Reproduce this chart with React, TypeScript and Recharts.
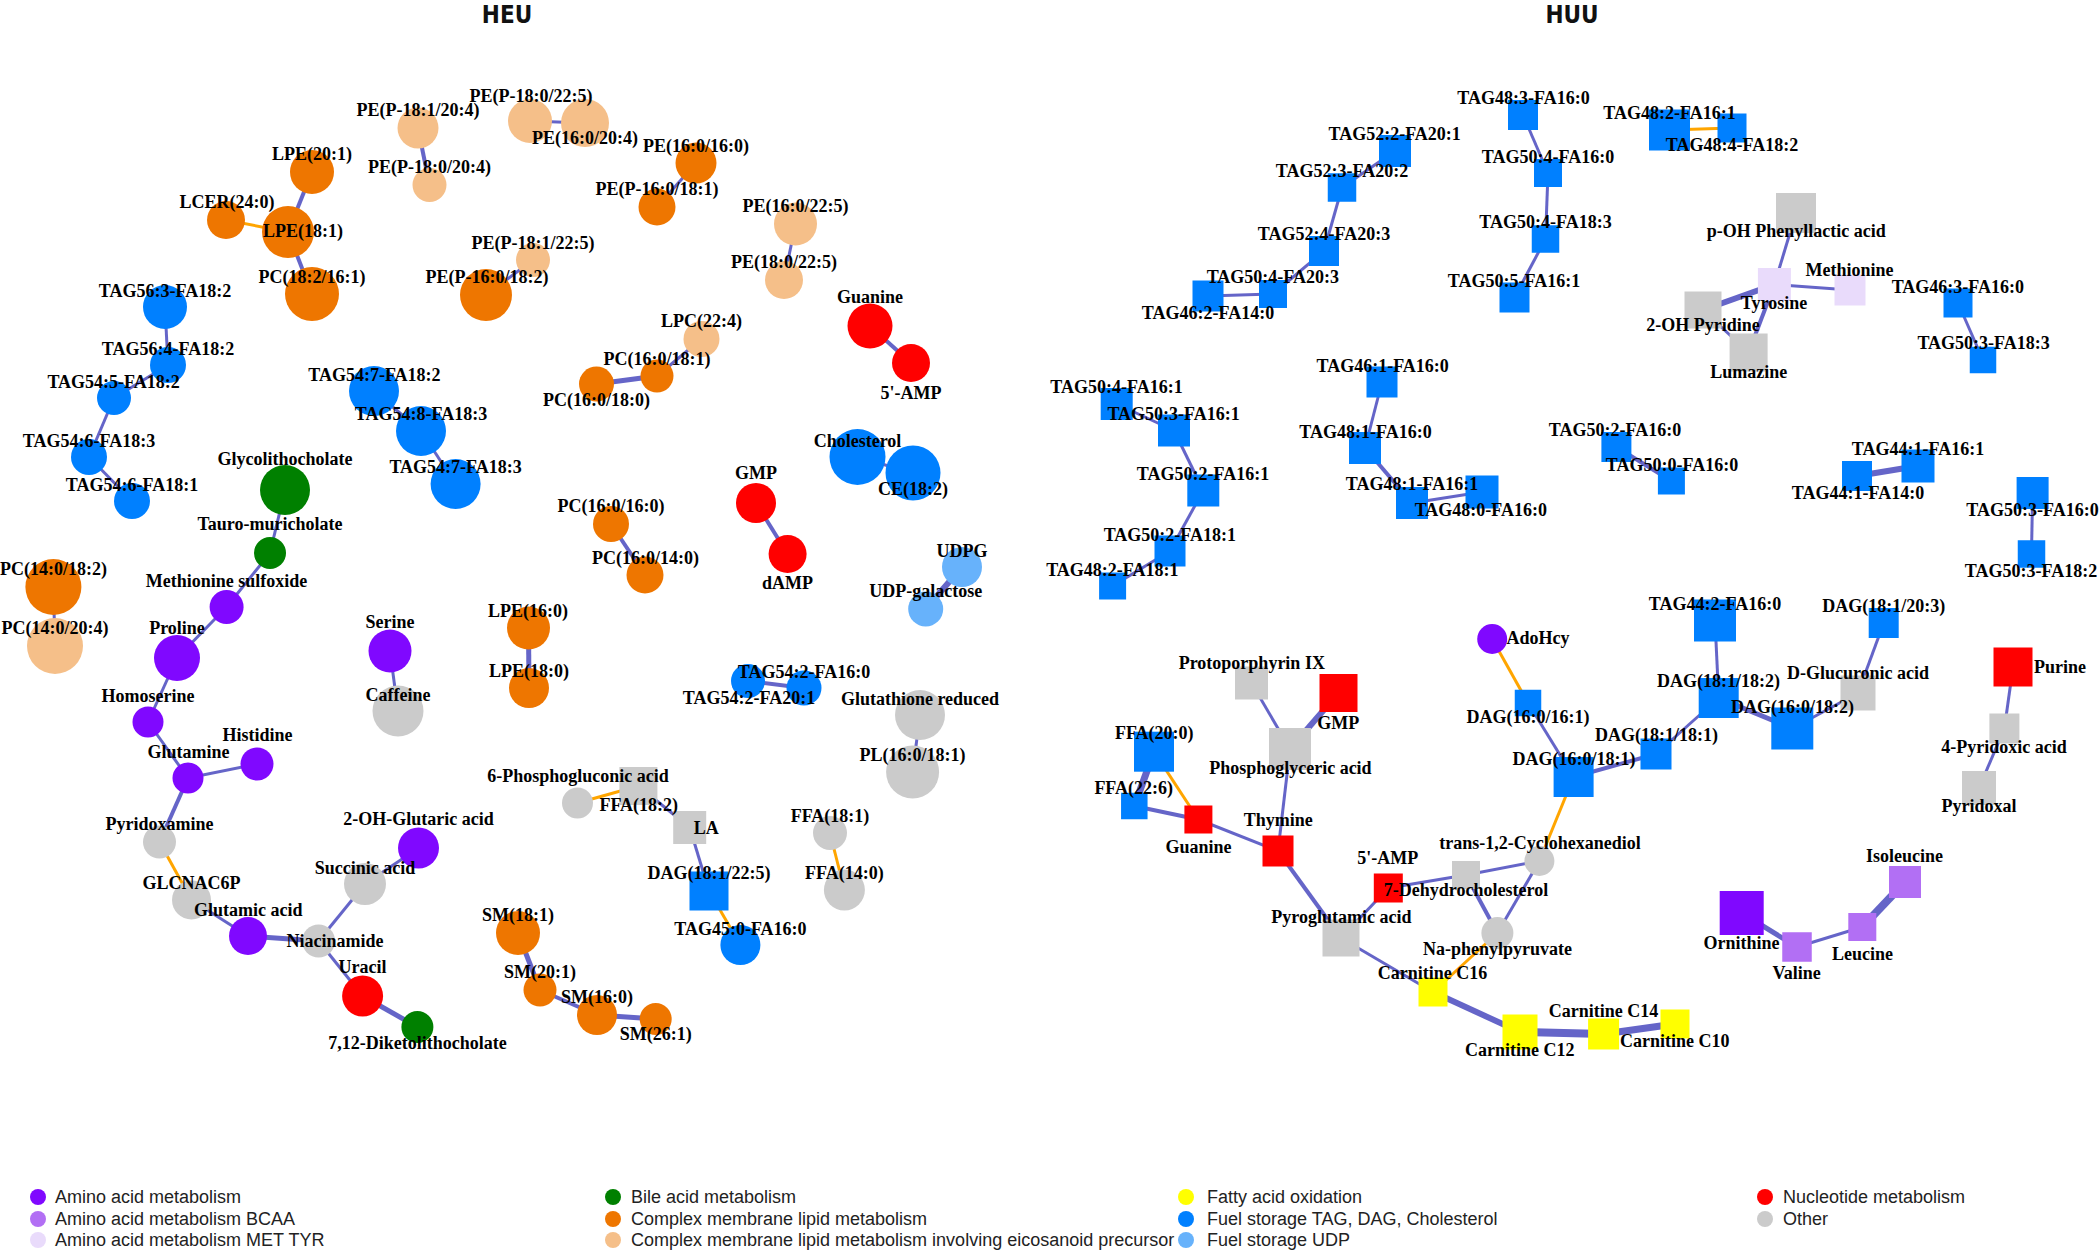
import React from 'react';
import { ScatterChart, Scatter, XAxis, YAxis } from 'recharts';

const W = 2100;
const H = 1251;

// [name, x, y, size, group, shape]
type NodeT = [string, number, number, number, string, string?];
type LabelT = [string, number, number];
type EdgeT = [string, string, number, string?];

const groupColors: Record<string, string> = {
  aa: '#8008ff',
  bcaa: '#b26ff4',
  mettyr: '#e9dbfb',
  bile: '#008000',
  cml: '#ee7600',
  eic: '#f5bf89',
  fao: '#ffff00',
  tag: '#0080ff',
  udp: '#67b2fb',
  nuc: '#ff0000',
  other: '#cbcbcb',
};

const legendGroups: [string, string][] = [
  ['aa', 'Amino acid metabolism'],
  ['bcaa', 'Amino acid metabolism BCAA'],
  ['mettyr', 'Amino acid metabolism MET TYR'],
  ['bile', 'Bile acid metabolism'],
  ['cml', 'Complex membrane lipid metabolism'],
  ['eic', 'Complex membrane lipid metabolism involving eicosanoid precursor'],
  ['fao', 'Fatty acid oxidation'],
  ['tag', 'Fuel storage TAG, DAG, Cholesterol'],
  ['udp', 'Fuel storage UDP'],
  ['nuc', 'Nucleotide metabolism'],
  ['other', 'Other'],
];

const titles: [string, number][] = [
  ['HEU', 507],
  ['HUU', 1572],
];

const heuNodes: NodeT[] = [
  ['PE(P-18:1/20:4)', 418, 128, 41, 'eic'],
  ['PE(P-18:0/20:4)', 429.5, 185, 34, 'eic'],
  ['LPE(20:1)', 312, 172, 44, 'cml'],
  ['LCER(24:0)', 226, 220, 38, 'cml'],
  ['LPE(18:1)', 288, 232, 52, 'cml'],
  ['PC(18:2/16:1)', 312, 294, 54, 'cml'],
  ['TAG56:3-FA18:2', 165, 307, 44, 'tag'],
  ['TAG56:4-FA18:2', 168, 365, 36, 'tag'],
  ['TAG54:5-FA18:2', 114, 398, 34, 'tag'],
  ['TAG54:6-FA18:3', 89, 457, 36, 'tag'],
  ['TAG54:6-FA18:1', 132, 501, 36, 'tag'],
  ['PE(P-16:0/18:2)', 486, 295, 52, 'cml'],
  ['PE(P-18:1/22:5)', 533, 260, 34, 'eic'],
  ['PE(P-18:0/22:5)', 530, 121, 44, 'eic'],
  ['PE(16:0/20:4)', 585, 123, 48, 'eic'],
  ['PE(16:0/16:0)', 696, 163, 41, 'cml'],
  ['PE(P-16:0/18:1)', 657, 207, 37, 'cml'],
  ['PE(16:0/22:5)', 795.5, 224, 43, 'eic'],
  ['PE(18:0/22:5)', 784, 280, 38, 'eic'],
  ['Guanine', 870, 326, 45, 'nuc'],
  ["5'-AMP", 911, 363, 38, 'nuc'],
  ['LPC(22:4)', 701.5, 339, 36, 'eic'],
  ['PC(16:0/18:1)', 657, 376, 33, 'cml'],
  ['PC(16:0/18:0)', 596.5, 384, 35, 'cml'],
  ['TAG54:7-FA18:2', 374, 391, 50, 'tag'],
  ['TAG54:8-FA18:3', 421, 431, 50, 'tag'],
  ['TAG54:7-FA18:3', 455.6, 484, 50, 'tag'],
  ['Glycolithocholate', 285, 490, 50, 'bile'],
  ['Tauro-muricholate', 270, 553, 32, 'bile'],
  ['Methionine sulfoxide', 226.6, 607, 34, 'aa'],
  ['Proline', 177, 658, 46, 'aa'],
  ['Homoserine', 148, 722, 31, 'aa'],
  ['PC(14:0/18:2)', 53.4, 587, 56, 'cml'],
  ['PC(14:0/20:4)', 55, 646, 56, 'eic'],
  ['Serine', 390, 651, 43, 'aa'],
  ['Caffeine', 398, 711, 51, 'other'],
  ['LPE(16:0)', 528.5, 628, 43, 'cml'],
  ['LPE(18:0)', 529, 688, 40, 'cml'],
  ['Cholesterol', 857.5, 457, 56, 'tag'],
  ['CE(18:2)', 913, 473, 55, 'tag'],
  ['GMP', 756, 503, 40, 'nuc'],
  ['dAMP', 787.6, 554, 38, 'nuc'],
  ['PC(16:0/16:0)', 611, 524, 36, 'cml'],
  ['PC(16:0/14:0)', 645, 575, 37, 'cml'],
  ['UDPG', 962, 567, 40, 'udp'],
  ['UDP-galactose', 925.7, 609, 35, 'udp'],
  ['TAG54:2-FA16:0', 804, 688, 35, 'tag'],
  ['TAG54:2-FA20:1', 748, 681, 34, 'tag'],
  ['Glutathione reduced', 920, 715, 50, 'other'],
  ['PL(16:0/18:1)', 912.6, 772, 53, 'other'],
  ['Glutamine', 188, 778, 31, 'aa'],
  ['Histidine', 257, 764, 33, 'aa'],
  ['Pyridoxamine', 159.5, 842, 33, 'other'],
  ['GLCNAC6P', 191.5, 900, 39, 'other'],
  ['Glutamic acid', 248, 936, 38, 'aa'],
  ['Niacinamide', 318.6, 941, 33, 'other'],
  ['Succinic acid', 365, 884, 42, 'other'],
  ['2-OH-Glutaric acid', 418.5, 848, 41, 'aa'],
  ['Uracil', 362.6, 996, 41, 'nuc'],
  ['7,12-Diketolithocholate', 417.4, 1027, 32, 'bile'],
  ['SM(18:1)', 518, 933, 44, 'cml'],
  ['SM(20:1)', 540, 990, 33, 'cml'],
  ['SM(16:0)', 597, 1015, 40, 'cml'],
  ['SM(26:1)', 655.7, 1019, 32, 'cml'],
  ['6-Phosphogluconic acid', 577.5, 803, 31, 'other'],
  ['FFA(18:2)', 638.4, 786, 38, 'other', 's'],
  ['LA', 689.7, 827.5, 33, 'other', 's'],
  ['DAG(18:1/22:5)', 709, 891, 39, 'tag', 's'],
  ['TAG45:0-FA16:0', 740.4, 945, 40, 'tag'],
  ['FFA(18:1)', 830, 833, 34, 'other'],
  ['FFA(14:0)', 844.4, 890, 41, 'other'],
];

const heuLabels: LabelT[] = [
  ['PE(P-18:1/20:4)', 418, 110],
  ['PE(P-18:0/20:4)', 429.5, 167],
  ['LPE(20:1)', 312, 154],
  ['LCER(24:0)', 227, 202],
  ['LPE(18:1)', 303, 231],
  ['PC(18:2/16:1)', 312, 277],
  ['TAG56:3-FA18:2', 165, 291],
  ['TAG56:4-FA18:2', 168, 349],
  ['TAG54:5-FA18:2', 113.6, 382],
  ['TAG54:6-FA18:3', 89, 441],
  ['TAG54:6-FA18:1', 132, 485],
  ['PE(P-16:0/18:2)', 487, 277],
  ['PE(P-18:1/22:5)', 533, 243],
  ['PE(P-18:0/22:5)', 531, 96],
  ['PE(16:0/20:4)', 585, 138],
  ['PE(16:0/16:0)', 696, 146],
  ['PE(P-16:0/18:1)', 657, 189],
  ['PE(16:0/22:5)', 795.5, 206],
  ['PE(18:0/22:5)', 784, 262],
  ['Guanine', 870, 297],
  ["5'-AMP", 911, 393],
  ['LPC(22:4)', 701.5, 321],
  ['PC(16:0/18:1)', 657, 359],
  ['PC(16:0/18:0)', 596.5, 400],
  ['TAG54:7-FA18:2', 374.4, 375],
  ['TAG54:8-FA18:3', 421, 414],
  ['TAG54:7-FA18:3', 455.6, 467],
  ['Glycolithocholate', 285, 459],
  ['Tauro-muricholate', 270, 524],
  ['Methionine sulfoxide', 226.6, 581],
  ['Proline', 177, 628],
  ['Homoserine', 148, 696],
  ['PC(14:0/18:2)', 53.4, 569],
  ['PC(14:0/20:4)', 55, 628],
  ['Serine', 390, 622],
  ['Caffeine', 398, 695],
  ['LPE(16:0)', 528, 611],
  ['LPE(18:0)', 529, 671],
  ['Cholesterol', 857.5, 441],
  ['CE(18:2)', 913, 489],
  ['GMP', 756, 473],
  ['dAMP', 787.6, 583],
  ['PC(16:0/16:0)', 611, 506],
  ['PC(16:0/14:0)', 645.4, 558],
  ['UDPG', 962, 551],
  ['UDP-galactose', 925.7, 591],
  ['TAG54:2-FA16:0', 804, 672],
  ['TAG54:2-FA20:1', 749, 698],
  ['Glutathione reduced', 920, 699],
  ['PL(16:0/18:1)', 912.6, 755],
  ['Glutamine', 188.4, 752],
  ['Histidine', 257.6, 735],
  ['Pyridoxamine', 159.5, 824],
  ['GLCNAC6P', 191.5, 883],
  ['Glutamic acid', 248.3, 910],
  ['Niacinamide', 335, 941],
  ['Succinic acid', 365, 868],
  ['2-OH-Glutaric acid', 418.5, 819],
  ['Uracil', 362.6, 967],
  ['7,12-Diketolithocholate', 417.4, 1043],
  ['SM(18:1)', 518, 915],
  ['SM(20:1)', 540, 972],
  ['SM(16:0)', 597, 997],
  ['SM(26:1)', 655.7, 1034],
  ['6-Phosphogluconic acid', 578, 776],
  ['FFA(18:2)', 638.8, 805],
  ['LA', 706.3, 828],
  ['DAG(18:1/22:5)', 709, 873],
  ['TAG45:0-FA16:0', 740.4, 929],
  ['FFA(18:1)', 830, 816],
  ['FFA(14:0)', 844.4, 873],
];

const heuEdges: EdgeT[] = [
  ['PE(P-18:1/20:4)', 'PE(P-18:0/20:4)', 4],
  ['LPE(20:1)', 'LPE(18:1)', 4],
  ['LCER(24:0)', 'LPE(18:1)', 3, 'n'],
  ['LPE(18:1)', 'PC(18:2/16:1)', 4],
  ['PE(P-18:0/22:5)', 'PE(16:0/20:4)', 3],
  ['PE(16:0/16:0)', 'PE(P-16:0/18:1)', 3],
  ['PE(16:0/22:5)', 'PE(18:0/22:5)', 3],
  ['PE(P-18:1/22:5)', 'PE(P-16:0/18:2)', 3],
  ['Guanine', "5'-AMP", 4],
  ['LPC(22:4)', 'PC(16:0/18:1)', 3],
  ['PC(16:0/18:1)', 'PC(16:0/18:0)', 5],
  ['TAG56:3-FA18:2', 'TAG56:4-FA18:2', 3],
  ['TAG56:4-FA18:2', 'TAG54:5-FA18:2', 3],
  ['TAG54:5-FA18:2', 'TAG54:6-FA18:3', 3],
  ['TAG54:6-FA18:3', 'TAG54:6-FA18:1', 3],
  ['TAG54:7-FA18:2', 'TAG54:8-FA18:3', 3],
  ['TAG54:8-FA18:3', 'TAG54:7-FA18:3', 3],
  ['Glycolithocholate', 'Tauro-muricholate', 3],
  ['Tauro-muricholate', 'Methionine sulfoxide', 3],
  ['Methionine sulfoxide', 'Proline', 3],
  ['Proline', 'Homoserine', 3],
  ['Homoserine', 'Glutamine', 3],
  ['Glutamine', 'Histidine', 3],
  ['Glutamine', 'Pyridoxamine', 4],
  ['Pyridoxamine', 'GLCNAC6P', 3, 'n'],
  ['GLCNAC6P', 'Glutamic acid', 3],
  ['Glutamic acid', 'Niacinamide', 5],
  ['Niacinamide', 'Succinic acid', 3],
  ['Succinic acid', '2-OH-Glutaric acid', 3],
  ['Niacinamide', 'Uracil', 3],
  ['Uracil', '7,12-Diketolithocholate', 5],
  ['PC(14:0/18:2)', 'PC(14:0/20:4)', 3],
  ['Serine', 'Caffeine', 3],
  ['LPE(16:0)', 'LPE(18:0)', 5],
  ['Cholesterol', 'CE(18:2)', 3],
  ['GMP', 'dAMP', 4],
  ['PC(16:0/16:0)', 'PC(16:0/14:0)', 4],
  ['UDPG', 'UDP-galactose', 6],
  ['TAG54:2-FA16:0', 'TAG54:2-FA20:1', 4],
  ['Glutathione reduced', 'PL(16:0/18:1)', 3],
  ['6-Phosphogluconic acid', 'FFA(18:2)', 3, 'n'],
  ['FFA(18:2)', 'LA', 3],
  ['LA', 'DAG(18:1/22:5)', 3],
  ['DAG(18:1/22:5)', 'TAG45:0-FA16:0', 3, 'n'],
  ['FFA(18:1)', 'FFA(14:0)', 3, 'n'],
  ['SM(18:1)', 'SM(20:1)', 5],
  ['SM(20:1)', 'SM(16:0)', 4],
  ['SM(16:0)', 'SM(26:1)', 5],
];

const huuNodes: NodeT[] = [
  ['TAG52:2-FA20:1', 1395, 151, 32, 'tag', 's'],
  ['TAG52:3-FA20:2', 1342, 187.5, 28.5, 'tag', 's'],
  ['TAG52:4-FA20:3', 1324, 251, 30, 'tag', 's'],
  ['TAG50:4-FA20:3', 1273, 294, 28, 'tag', 's'],
  ['TAG46:2-FA14:0', 1208, 296, 31, 'tag', 's'],
  ['TAG48:3-FA16:0', 1523, 115, 30, 'tag', 's'],
  ['TAG50:4-FA16:0', 1548, 173, 28, 'tag', 's'],
  ['TAG50:4-FA18:3', 1545.5, 239, 27.5, 'tag', 's'],
  ['TAG50:5-FA16:1', 1514.5, 297.5, 30, 'tag', 's'],
  ['TAG46:1-FA16:0', 1382, 382, 31, 'tag', 's'],
  ['TAG48:2-FA16:1', 1669.5, 130, 41, 'tag', 's'],
  ['TAG48:4-FA18:2', 1732, 128, 29, 'tag', 's'],
  ['p-OH Phenyllactic acid', 1796, 213, 40, 'other', 's'],
  ['Tyrosine', 1774.4, 284.5, 33, 'mettyr', 's'],
  ['Methionine', 1850, 290, 31, 'mettyr', 's'],
  ['2-OH Pyridine', 1703, 310, 37, 'other', 's'],
  ['Lumazine', 1748.6, 352.5, 38, 'other', 's'],
  ['TAG46:3-FA16:0', 1958, 303, 29, 'tag', 's'],
  ['TAG50:3-FA18:3', 1983, 360, 26.5, 'tag', 's'],
  ['TAG50:4-FA16:1', 1116.7, 404, 32, 'tag', 's'],
  ['TAG50:3-FA16:1', 1174, 430.5, 32, 'tag', 's'],
  ['TAG50:2-FA16:1', 1203.3, 490.5, 32, 'tag', 's'],
  ['TAG50:2-FA18:1', 1170, 551, 31, 'tag', 's'],
  ['TAG48:2-FA18:1', 1112.6, 586, 27, 'tag', 's'],
  ['TAG48:1-FA16:0', 1365, 448, 32, 'tag', 's'],
  ['TAG48:1-FA16:1', 1412, 503, 32, 'tag', 's'],
  ['TAG48:0-FA16:0', 1482, 492, 33, 'tag', 's'],
  ['TAG50:2-FA16:0', 1616.4, 447, 30, 'tag', 's'],
  ['TAG50:0-FA16:0', 1671.4, 481, 27, 'tag', 's'],
  ['TAG44:1-FA16:1', 1918, 466, 33, 'tag', 's'],
  ['TAG44:1-FA14:0', 1857, 476, 30, 'tag', 's'],
  ['TAG50:3-FA16:0', 2032.6, 493, 32, 'tag', 's'],
  ['TAG50:3-FA18:2', 2031.5, 554, 27.5, 'tag', 's'],
  ['TAG44:2-FA16:0', 1715, 620.5, 42, 'tag', 's'],
  ['DAG(18:1/20:3)', 1883.7, 623, 30, 'tag', 's'],
  ['Purine', 2013, 667, 39, 'nuc', 's'],
  ['D-Glucuronic acid', 1858, 693, 35, 'other', 's'],
  ['DAG(18:1/18:2)', 1718.7, 698, 40, 'tag', 's'],
  ['DAG(16:0/18:2)', 1792.3, 728.5, 42, 'tag', 's'],
  ['4-Pyridoxic acid', 2004.4, 728.5, 30, 'other', 's'],
  ['Pyridoxal', 1979, 788, 34, 'other', 's'],
  ['DAG(18:1/18:1)', 1656, 754, 31, 'tag', 's'],
  ['DAG(16:0/18:1)', 1573.6, 777, 40, 'tag', 's'],
  ['DAG(16:0/16:1)', 1528, 703, 26.5, 'tag', 's'],
  ['AdoHcy', 1492.2, 639, 30, 'aa'],
  ['Protoporphyrin IX', 1251.5, 683, 33, 'other', 's'],
  ['GMP', 1338.5, 693, 38, 'nuc', 's'],
  ['FFA(20:0)', 1154, 751.7, 40, 'tag', 's'],
  ['FFA(22:6)', 1134.3, 806, 26.5, 'tag', 's'],
  ['Guanine', 1198.4, 819.5, 28, 'nuc', 's'],
  ['Phosphoglyceric acid', 1290, 749, 42, 'other', 's'],
  ['Thymine', 1278, 851, 31, 'nuc', 's'],
  ['Pyroglutamic acid', 1341, 938, 37, 'other', 's'],
  ["5'-AMP", 1388.3, 888, 29, 'nuc', 's'],
  ['7-Dehydrocholesterol', 1466, 875, 28, 'other', 's'],
  ['trans-1,2-Cyclohexanediol', 1539.4, 861, 30, 'other'],
  ['Na-phenylpyruvate', 1497.4, 933, 32, 'other'],
  ['Carnitine C16', 1433, 992, 29, 'fao', 's'],
  ['Carnitine C12', 1520, 1032, 35, 'fao', 's'],
  ['Carnitine C14', 1603.6, 1034, 31, 'fao', 's'],
  ['Carnitine C10', 1675, 1024, 29, 'fao', 's'],
  ['Ornithine', 1741.7, 913, 44, 'aa', 's'],
  ['Valine', 1797, 947, 29.5, 'bcaa', 's'],
  ['Leucine', 1862.3, 927, 28, 'bcaa', 's'],
  ['Isoleucine', 1905, 882, 32, 'bcaa', 's'],
];

const huuLabels: LabelT[] = [
  ['TAG52:2-FA20:1', 1394.7, 134],
  ['TAG52:3-FA20:2', 1342, 171],
  ['TAG52:4-FA20:3', 1324, 234],
  ['TAG50:4-FA20:3', 1272.8, 277],
  ['TAG46:2-FA14:0', 1208, 313],
  ['TAG48:3-FA16:0', 1523.5, 97.7],
  ['TAG50:4-FA16:0', 1548, 156.7],
  ['TAG50:4-FA18:3', 1545.5, 221.7],
  ['TAG50:5-FA16:1', 1514, 281],
  ['TAG46:1-FA16:0', 1382.7, 366],
  ['TAG48:2-FA16:1', 1669.5, 113],
  ['TAG48:4-FA18:2', 1732, 145],
  ['p-OH Phenyllactic acid', 1796.3, 231],
  ['Tyrosine', 1774, 303],
  ['Methionine', 1849.6, 270],
  ['2-OH Pyridine', 1703, 325],
  ['Lumazine', 1748.7, 372],
  ['TAG46:3-FA16:0', 1957.8, 287],
  ['TAG50:3-FA18:3', 1983.6, 343],
  ['TAG50:4-FA16:1', 1116.5, 387],
  ['TAG50:3-FA16:1', 1173.6, 414],
  ['TAG50:2-FA16:1', 1203, 474],
  ['TAG50:2-FA18:1', 1169.8, 535],
  ['TAG48:2-FA18:1', 1112.3, 570],
  ['TAG48:1-FA16:0', 1365.5, 432],
  ['TAG48:1-FA16:1', 1412, 484],
  ['TAG48:0-FA16:0', 1480.8, 510],
  ['TAG50:2-FA16:0', 1615, 430],
  ['TAG50:0-FA16:0', 1672, 465],
  ['TAG44:1-FA16:1', 1918, 449],
  ['TAG44:1-FA14:0', 1858, 493],
  ['TAG50:3-FA16:0', 2032.5, 510],
  ['TAG50:3-FA18:2', 2031, 571],
  ['TAG44:2-FA16:0', 1715, 604],
  ['DAG(18:1/20:3)', 1883.7, 606],
  ['Purine', 2060, 667],
  ['D-Glucuronic acid', 1858, 673],
  ['DAG(18:1/18:2)', 1718.4, 681],
  ['DAG(16:0/18:2)', 1792.5, 707],
  ['4-Pyridoxic acid', 2004, 747],
  ['Pyridoxal', 1979, 806],
  ['DAG(18:1/18:1)', 1656.4, 735],
  ['DAG(16:0/18:1)', 1574, 759],
  ['DAG(16:0/16:1)', 1528, 717],
  ['AdoHcy', 1538, 638],
  ['Protoporphyrin IX', 1251.8, 663],
  ['GMP', 1338.2, 723],
  ['FFA(20:0)', 1154.3, 733],
  ['FFA(22:6)', 1133.7, 788],
  ['Guanine', 1198.4, 847],
  ['Phosphoglyceric acid', 1290.4, 768],
  ['Thymine', 1278.3, 820],
  ['Pyroglutamic acid', 1341.4, 917],
  ["5'-AMP", 1387.8, 858],
  ['7-Dehydrocholesterol', 1466, 890],
  ['trans-1,2-Cyclohexanediol', 1540, 843],
  ['Na-phenylpyruvate', 1497.4, 949],
  ['Carnitine C16', 1432.6, 973],
  ['Carnitine C12', 1519.7, 1050],
  ['Carnitine C14', 1603.5, 1011],
  ['Carnitine C10', 1674.7, 1041],
  ['Ornithine', 1741.5, 943],
  ['Valine', 1796.6, 973],
  ['Leucine', 1862.4, 954],
  ['Isoleucine', 1904.4, 856],
];

const huuEdges: EdgeT[] = [
  ['TAG52:2-FA20:1', 'TAG52:3-FA20:2', 3],
  ['TAG52:3-FA20:2', 'TAG52:4-FA20:3', 3],
  ['TAG52:4-FA20:3', 'TAG50:4-FA20:3', 3],
  ['TAG50:4-FA20:3', 'TAG46:2-FA14:0', 3],
  ['TAG48:3-FA16:0', 'TAG50:4-FA16:0', 3],
  ['TAG50:4-FA16:0', 'TAG50:4-FA18:3', 3],
  ['TAG50:4-FA18:3', 'TAG50:5-FA16:1', 3],
  ['TAG48:2-FA16:1', 'TAG48:4-FA18:2', 3, 'n'],
  ['p-OH Phenyllactic acid', 'Tyrosine', 3],
  ['Tyrosine', 'Methionine', 3],
  ['Tyrosine', '2-OH Pyridine', 6],
  ['Tyrosine', 'Lumazine', 4],
  ['2-OH Pyridine', 'Lumazine', 3],
  ['TAG46:3-FA16:0', 'TAG50:3-FA18:3', 3],
  ['TAG50:4-FA16:1', 'TAG50:3-FA16:1', 3],
  ['TAG50:3-FA16:1', 'TAG50:2-FA16:1', 3],
  ['TAG50:2-FA16:1', 'TAG50:2-FA18:1', 3],
  ['TAG50:2-FA18:1', 'TAG48:2-FA18:1', 3],
  ['TAG46:1-FA16:0', 'TAG48:1-FA16:0', 3],
  ['TAG48:1-FA16:0', 'TAG48:1-FA16:1', 4],
  ['TAG48:1-FA16:1', 'TAG48:0-FA16:0', 3],
  ['TAG50:2-FA16:0', 'TAG50:0-FA16:0', 4],
  ['TAG44:1-FA16:1', 'TAG44:1-FA14:0', 6],
  ['TAG50:3-FA16:0', 'TAG50:3-FA18:2', 3],
  ['TAG44:2-FA16:0', 'DAG(18:1/18:2)', 3],
  ['DAG(18:1/20:3)', 'D-Glucuronic acid', 3],
  ['D-Glucuronic acid', 'DAG(16:0/18:2)', 3],
  ['DAG(18:1/18:2)', 'DAG(16:0/18:2)', 5],
  ['DAG(18:1/18:2)', 'DAG(18:1/18:1)', 3],
  ['DAG(18:1/18:1)', 'DAG(16:0/18:1)', 4],
  ['DAG(16:0/16:1)', 'DAG(16:0/18:1)', 3],
  ['AdoHcy', 'DAG(16:0/16:1)', 3, 'n'],
  ['DAG(16:0/18:1)', 'trans-1,2-Cyclohexanediol', 3, 'n'],
  ['Purine', '4-Pyridoxic acid', 3],
  ['4-Pyridoxic acid', 'Pyridoxal', 3],
  ['Protoporphyrin IX', 'Phosphoglyceric acid', 3],
  ['GMP', 'Phosphoglyceric acid', 6],
  ['Phosphoglyceric acid', 'Thymine', 3],
  ['FFA(20:0)', 'FFA(22:6)', 7],
  ['FFA(20:0)', 'Guanine', 3, 'n'],
  ['FFA(22:6)', 'Guanine', 4],
  ['Guanine', 'Thymine', 3],
  ['Thymine', 'Pyroglutamic acid', 4],
  ['Pyroglutamic acid', "5'-AMP", 3],
  ['Pyroglutamic acid', 'Carnitine C16', 3],
  ["5'-AMP", '7-Dehydrocholesterol', 3],
  ['7-Dehydrocholesterol', 'trans-1,2-Cyclohexanediol', 3],
  ['7-Dehydrocholesterol', 'Na-phenylpyruvate', 4],
  ['trans-1,2-Cyclohexanediol', 'Na-phenylpyruvate', 3],
  ['Na-phenylpyruvate', 'Carnitine C16', 3, 'n'],
  ['Carnitine C16', 'Carnitine C12', 6],
  ['Carnitine C12', 'Carnitine C14', 8],
  ['Carnitine C14', 'Carnitine C10', 7],
  ['Ornithine', 'Valine', 5],
  ['Valine', 'Leucine', 3],
  ['Leucine', 'Isoleucine', 8],
];

const POS_EDGE = '#6565c8';
const NEG_EDGE = '#ffa500';

type NodeDatum = { name: string; x: number; y: number; size: number; group: string; shape: string };

const toNodes = (arr: NodeT[]): NodeDatum[] =>
  arr.map(([name, x, y, size, group, shape]) => ({ name, x, y, size, group, shape: shape || 'c' }));

const heuData = toNodes(heuNodes);
const huuData = toNodes(huuNodes);
const allNodes = [...heuData, ...huuData];

const edgeData = (nodes: NodeDatum[], edges: EdgeT[]) => {
  const map = new Map(nodes.map((n) => [n.name, n]));
  return edges.map(([a, b, w, sign]) => {
    const na = map.get(a)!;
    const nb = map.get(b)!;
    return {
      pts: [
        { x: na.x, y: na.y },
        { x: nb.x, y: nb.y },
      ],
      w,
      color: sign === 'n' ? NEG_EDGE : POS_EDGE,
    };
  });
};

const allEdges = [...edgeData(heuData, heuEdges), ...edgeData(huuData, huuEdges)];
const allLabels = [...heuLabels, ...huuLabels].map(([name, x, y]) => ({ name, x, y }));

const NoDot = () => <g />;

const NodeShape = (props: any) => {
  const { cx, cy, payload } = props;
  const fill = groupColors[payload.group];
  const s = payload.size;
  if (payload.shape === 's') {
    return <rect x={cx - s / 2} y={cy - s / 2} width={s} height={s} fill={fill} />;
  }
  return <circle cx={cx} cy={cy} r={s / 2} fill={fill} />;
};

const LabelShape = (props: any) => {
  const { cx, cy, payload } = props;
  return (
    <text
      x={cx}
      y={cy}
      textAnchor="middle"
      dominantBaseline="central"
      fontFamily="'Liberation Serif', 'Times New Roman', serif"
      fontWeight="bold"
      fontSize={18}
      fill="#000"
    >
      {payload.name}
    </text>
  );
};

const legendCols = [
  { mx: 38, tx: 55 },
  { mx: 613, tx: 631 },
  { mx: 1186, tx: 1207 },
  { mx: 1765, tx: 1783 },
];
const legendRows = [1197, 1219, 1240];
const legendLayout: [number, number][] = [
  [0, 0], [0, 1], [0, 2],
  [1, 0], [1, 1], [1, 2],
  [2, 0], [2, 1], [2, 2],
  [3, 0], [3, 1],
];

export default function App() {
  return (
    <div style={{ position: 'absolute', left: 0, top: 0, width: W, height: H, background: '#fff', overflow: 'hidden' }}>
      <ScatterChart width={W} height={H} margin={{ top: 0, right: 0, bottom: 0, left: 0 }}>
        <XAxis type="number" dataKey="x" domain={[0, W]} hide allowDataOverflow />
        <YAxis type="number" dataKey="y" domain={[0, H]} reversed hide allowDataOverflow />
        {allEdges.map((e, i) => (
          <Scatter
            key={'e' + i}
            data={e.pts}
            fill={e.color}
            line={{ stroke: e.color, strokeWidth: e.w }}
            shape={NoDot}
            isAnimationActive={false}
          />
        ))}
        <Scatter data={allNodes} shape={NodeShape} isAnimationActive={false} />
        <Scatter data={allLabels} shape={LabelShape} isAnimationActive={false} />
      </ScatterChart>
      {titles.map(([t, x]) => (
        <div
          key={t}
          style={{
            position: 'absolute',
            left: x - 60,
            width: 120,
            top: 3,
            height: 24,
            textAlign: 'center',
            fontFamily: "'DejaVu Sans Condensed', 'DejaVu Sans', sans-serif",
            fontStretch: 'condensed',
            fontWeight: 'bold',
            fontSize: 24,
            lineHeight: '24px',
            color: '#111',
          }}
        >
          {t}
        </div>
      ))}
      {legendGroups.map(([g, label], i) => {
        const [c, r] = legendLayout[i];
        const col = legendCols[c];
        const y = legendRows[r];
        return (
          <React.Fragment key={g}>
            <div
              style={{
                position: 'absolute',
                left: col.mx - 8,
                top: y - 8,
                width: 16,
                height: 16,
                borderRadius: 8,
                background: groupColors[g],
              }}
            />
            <div
              style={{
                position: 'absolute',
                left: col.tx,
                top: y - 11,
                height: 22,
                lineHeight: '22px',
                fontFamily: "'Liberation Sans', Arial, sans-serif",
                fontSize: 18,
                color: '#222',
                whiteSpace: 'nowrap',
              }}
            >
              {label}
            </div>
          </React.Fragment>
        );
      })}
    </div>
  );
}
